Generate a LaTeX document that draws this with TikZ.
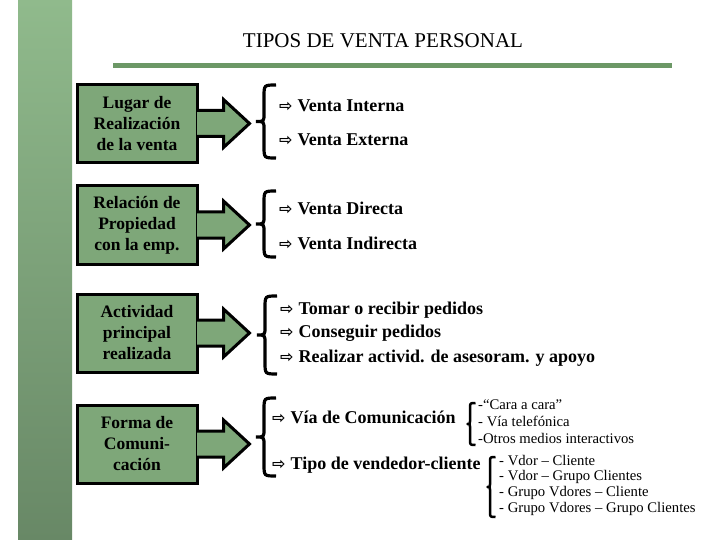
\documentclass[tikz,border=0pt]{standalone}
\usepackage{fontspec}
\setmainfont{Liberation Serif}
\newfontfamily\arrowfont{DejaVu Sans Bold}
\usepackage{xcolor}
\usetikzlibrary{
	positioning,
	calc
}
\definecolor{barlight}{RGB}{144,186,140}
\definecolor{bardark}{RGB}{104,136,102}
\definecolor{boxgreen}{RGB}{126,167,121}
\definecolor{rulegreen}{RGB}{108,152,102}
\newcommand{\warrow}{{\arrowfont\fontsize{16}{16}\selectfont ⇨}\hspace{5pt}}
\tikzset{
	catbox/.style={draw, line width=3pt, fill=boxgreen, minimum width=120pt,
		minimum height=78pt, inner sep=0pt, align=center,
		font=\bfseries\fontsize{17.5}{21}\selectfont},
	blockarrow/.style={fill=boxgreen, draw, line width=3pt, line join=miter},
	itemtext/.style={anchor=west, inner sep=0pt, font=\bfseries\fontsize{18}{21}\selectfont},
	subtext/.style={anchor=west, inner sep=0pt, font=\fontsize{14.7}{16}\selectfont},
	curly/.style 2 args={to path={
			($(\tikztostart)+(#1,0)$) .. controls (\tikztostart) .. ($(\tikztostart)+(0,#1)$)
			-- ($(\tikztostart)!0.5!(\tikztotarget)+(0,-#2)$)
			.. controls ($(\tikztostart)!0.5!(\tikztotarget)$) .. ($(\tikztostart)!0.5!(\tikztotarget)+(-#2,0)$)
			.. controls ($(\tikztostart)!0.5!(\tikztotarget)$) .. ($(\tikztostart)!0.5!(\tikztotarget)+(0,#2)$)
			-- ($(\tikztotarget)+(0,-#1)$) .. controls (\tikztotarget) .. ($(\tikztotarget)+(#1,0)$)}},
	bigbrace/.style={line width=3.2pt, curly={12}{8}},
	smallbrace/.style={line width=2.5pt, line join=round, curly={5.5}{2.5}}
}

\begin{document}
\begin{tikzpicture}[x=1pt,y=-1pt]
		
		\useasboundingbox[fill=white] (0,0) rectangle (720,540);
		
		% Side bar
		\shade[top color=barlight, bottom color=bardark] (18,0) rectangle (72,540);
		
		% Title
		\node[font=\fontsize{21}{24}\selectfont] (title) at (383,41) {TIPOS DE VENTA PERSONAL};
		\fill[rulegreen] (113,63.5) rectangle (672,68.5);
		
		% Categories
		\node[catbox] (lugar) at (137,123.5) {Lugar de\\Realización\\de la venta};
		\node[catbox] (relacion) at (137,225) {Relación de\\Propiedad\\con la emp.};
		\node[catbox] (actividad) at (137,333) {Actividad\\principal\\realizada};
		\node[catbox] (forma) at (137,444) {Forma de\\Comuni-\\cación};
		
		% Block arrows
		\foreach \b in {lugar,relacion,actividad,forma}
		\filldraw[blockarrow] ($(\b.east)+(-1.5,-13)$) -- ++(26.5,0) -- ++(0,-11)
		-- ++(26,24) -- ++(-26,24) -- ++(0,-11) -- ++(-26.5,0);
		
		% Braces
		\draw[bigbrace] (264,85) to (264,158);
		\draw[bigbrace] (264,191) to (264,257);
		\draw[bigbrace] (265,296) to (265,374);
		\draw[bigbrace] (264,398) to (264,476);
		\draw[smallbrace] (470,403) to (470,445);
		\draw[smallbrace] (490,457) to (490,517);
		
		% Types
		\node[itemtext] (interna) at (279,106) {\warrow Venta Interna};
		\node[itemtext] (externa) at (279,140) {\warrow Venta Externa};
		\node[itemtext] (directa) at (279,208) {\warrow Venta Directa};
		\node[itemtext] (indirecta) at (279,243) {\warrow Venta Indirecta};
		\node[itemtext] (tomar) at (280,310) {\warrow Tomar o recibir pedidos};
		\node[itemtext] (conseguir) at (280,333) {\warrow Conseguir pedidos};
		\node[itemtext] (asesorar) at (280,358) {\warrow Realizar activid. de asesoram. y apoyo};
		\node[itemtext] (via) at (272,417) {\warrow Vía de Comunicación};
		\node[itemtext] (tipo) at (272,465) {\warrow Tipo de vendedor-cliente};
		
		% Sub types
		\node[subtext] (cara) at (478,405) {-“Cara a cara”};
		\node[subtext] (telefono) at (478,421) {- Vía telefónica};
		\node[subtext] (otros) at (478,438) {-Otros medios interactivos};
		\node[subtext] (vcli) at (499,461) {- Vdor – Cliente};
		\node[subtext] (vgrupo) at (499,477) {- Vdor – Grupo Clientes};
		\node[subtext] (gvcli) at (499,493) {- Grupo Vdores – Cliente};
		\node[subtext] (gvgrupo) at (499,509) {- Grupo Vdores – Grupo Clientes};
		
	\end{tikzpicture}
\end{document}
